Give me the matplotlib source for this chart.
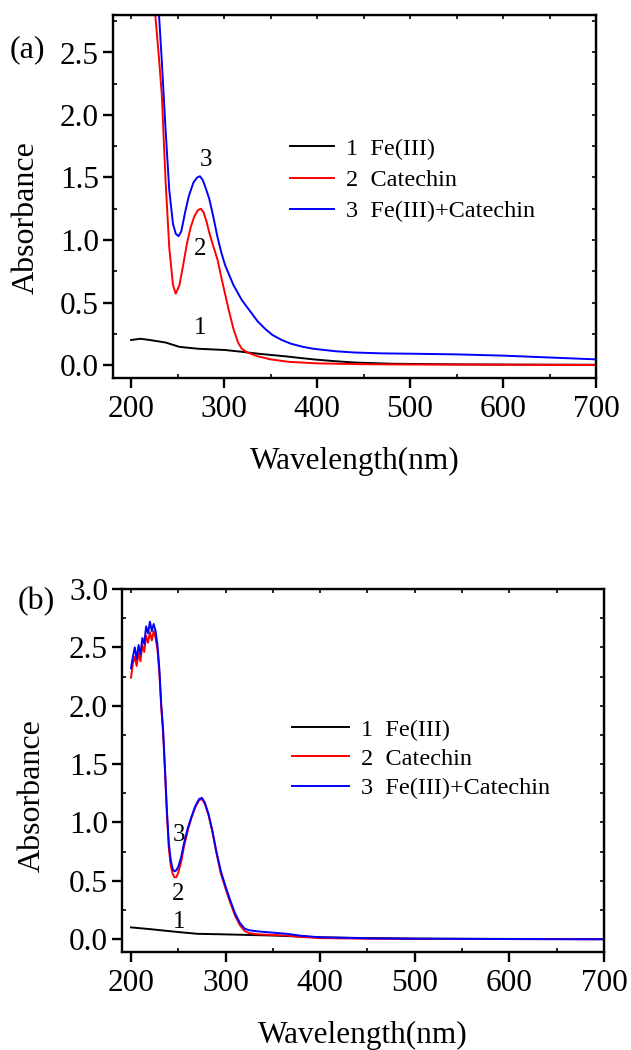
import matplotlib
matplotlib.use('Agg')
import matplotlib.pyplot as plt
from matplotlib.ticker import MultipleLocator, FormatStrFormatter

plt.rcParams['font.family'] = ['Liberation Serif', 'DejaVu Serif']

# ---- panel (a) data ----
wl_fe_a = [200, 210, 220, 237, 252, 272, 301, 320, 337, 365, 396, 420, 440, 480, 550, 620, 700]
abs_fe_a = [0.20, 0.21, 0.20, 0.18, 0.145, 0.13, 0.12, 0.105, 0.09, 0.07, 0.045, 0.03, 0.02, 0.01, 0.005, 0.003, 0.002]

wl_cat_a = [222, 226, 230, 233, 237, 241, 245, 248, 252, 256, 260, 264, 268, 272, 275, 278, 281, 284, 288, 293, 297, 301, 305, 310, 315, 319, 325, 336, 350, 370, 400, 450, 500, 600, 700]
abs_cat_a = [3.5, 2.8, 2.45, 2.16, 1.48, 0.94, 0.64, 0.57, 0.64, 0.80, 0.97, 1.10, 1.19, 1.24, 1.25, 1.22, 1.15, 1.06, 0.96, 0.84, 0.70, 0.57, 0.44, 0.29, 0.18, 0.13, 0.10, 0.07, 0.045, 0.025, 0.013, 0.006, 0.004, 0.002, 0.0]

wl_mix_a = [226, 230, 233, 237, 241, 245, 248, 251, 254, 258, 262, 267, 271, 274, 277, 280, 284, 288, 293, 297, 301, 310, 319, 328, 336, 344, 352, 362, 372, 385, 396, 420, 440, 470, 504, 550, 600, 650, 700]
abs_mix_a = [3.4, 2.8, 2.43, 1.89, 1.40, 1.13, 1.05, 1.03, 1.07, 1.22, 1.35, 1.46, 1.50, 1.51, 1.48, 1.42, 1.33, 1.20, 1.02, 0.90, 0.80, 0.64, 0.52, 0.43, 0.35, 0.29, 0.24, 0.20, 0.17, 0.145, 0.13, 0.11, 0.10, 0.093, 0.09, 0.085, 0.075, 0.06, 0.045]

# ---- panel (b) data ----
wl_fe_b = [200, 220, 250, 270, 300, 350, 400, 450, 500, 600, 700]
abs_fe_b = [0.10, 0.085, 0.06, 0.045, 0.04, 0.03, 0.015, 0.008, 0.004, 0.001, 0.0]

wl_b = [200, 202, 204, 206, 208, 210, 212, 214, 216, 218, 220, 222, 224, 226, 228, 230, 232, 234, 236, 238, 240, 242, 244, 246, 248, 250, 253, 256, 260, 264, 268, 272, 275, 278, 282, 286, 290, 295, 300, 305, 310, 315, 320, 325, 335, 350, 365, 380, 400, 450, 500, 600, 700]
abs_cat_b = [2.24, 2.36, 2.42, 2.34, 2.45, 2.38, 2.52, 2.46, 2.60, 2.54, 2.63, 2.56, 2.64, 2.58, 2.48, 2.28, 1.98, 1.76, 1.42, 1.06, 0.78, 0.63, 0.56, 0.53, 0.53, 0.57, 0.66, 0.79, 0.93, 1.04, 1.13, 1.19, 1.20, 1.16, 1.06, 0.92, 0.75, 0.56, 0.43, 0.31, 0.20, 0.12, 0.07, 0.05, 0.04, 0.035, 0.03, 0.018, 0.008, 0.003, 0.001, 0.0, -0.002]
abs_mix_b = [2.32, 2.42, 2.50, 2.40, 2.52, 2.44, 2.58, 2.53, 2.68, 2.62, 2.72, 2.64, 2.70, 2.64, 2.52, 2.31, 2.01, 1.79, 1.45, 1.10, 0.82, 0.68, 0.60, 0.58, 0.59, 0.62, 0.70, 0.82, 0.95, 1.05, 1.14, 1.20, 1.21, 1.17, 1.07, 0.93, 0.76, 0.58, 0.45, 0.33, 0.22, 0.14, 0.09, 0.075, 0.065, 0.055, 0.045, 0.028, 0.015, 0.006, 0.003, 0.0, -0.002]

labels = ['1  Fe(III)', '2  Catechin', '3  Fe(III)+Catechin']
colors = ['black', 'red', 'blue']


def style_axes(ax, xlim, ylim, yticks):
    ax.set_xlim(*xlim)
    ax.set_ylim(*ylim)
    ax.xaxis.set_major_locator(MultipleLocator(100))
    ax.xaxis.set_minor_locator(MultipleLocator(50))
    ax.set_yticks(yticks)
    ax.yaxis.set_minor_locator(MultipleLocator(0.25))
    ax.yaxis.set_major_formatter(FormatStrFormatter('%.1f'))
    for s in ax.spines.values():
        s.set_linewidth(1.7)
    ax.tick_params(which='major', direction='out', length=7, width=1.7,
                   labelsize=22.5, pad=3)
    ax.tick_params(axis='x', which='major', pad=5)
    ax.tick_params(which='minor', direction='in', length=3, width=1.2)
    # ticks on top / right, pointing in
    top = ax.secondary_xaxis('top')
    top.xaxis.set_major_locator(MultipleLocator(100))
    top.xaxis.set_minor_locator(MultipleLocator(50))
    top.tick_params(which='both', direction='in', length=3, width=1.2, labeltop=False)
    right = ax.secondary_yaxis('right')
    right.yaxis.set_major_locator(MultipleLocator(0.5))
    right.yaxis.set_minor_locator(MultipleLocator(0.25))
    right.tick_params(which='both', direction='in', length=3, width=1.2, labelright=False)
    ax.set_xlabel('Wavelength(nm)', fontsize=22.5)
    ax.set_ylabel('Absorbance', fontsize=23)


fig = plt.figure(figsize=(6.31, 10.5), dpi=100)

# ---- (a) ----
ax1 = fig.add_axes([113 / 631, 1 - 378 / 1050, 483 / 631, 363 / 1050])
for wl, ab, c, lab in zip([wl_fe_a, wl_cat_a, wl_mix_a], [abs_fe_a, abs_cat_a, abs_mix_a], colors, labels):
    ax1.plot(wl, ab, color=c, lw=1.4, label=lab)
style_axes(ax1, (180.5, 700), (-0.104, 2.80), [0, 0.5, 1.0, 1.5, 2.0, 2.5])
ax1.yaxis.set_label_coords(-0.15, 0.443)
ax1.xaxis.set_label_coords(0.5, -0.19)
ax1.legend(loc='center left', bbox_to_anchor=(0.366, 0.545), frameon=False,
           fontsize=17.5, handlelength=1.8, handletextpad=0.5, labelspacing=0.38,
           borderpad=0, borderaxespad=0)
ax1.text(280.5, 1.64, '3', fontsize=18, ha='center', va='center')
ax1.text(274, 0.93, '2', fontsize=18, ha='center', va='center')
ax1.text(274, 0.30, '1', fontsize=18, ha='center', va='center')
fig.text(27 / 631, 1 - 50 / 1050, '(a)', fontsize=23, ha='center', va='center')

# ---- (b) ----
ax2 = fig.add_axes([122 / 631, 1 - 952 / 1050, 482 / 631, 363 / 1050])
for wl, ab, c, lab in zip([wl_fe_b, wl_b, wl_b], [abs_fe_b, abs_cat_b, abs_mix_b], colors, labels):
    ax2.plot(wl, ab, color=c, lw=1.4, label=lab)
style_axes(ax2, (190.5, 700), (-0.111, 3.0), [0, 0.5, 1.0, 1.5, 2.0, 2.5, 3.0])
ax2.yaxis.set_label_coords(-0.157, 0.432)
ax2.xaxis.set_label_coords(0.5, -0.19)
ax2.legend(loc='center left', bbox_to_anchor=(0.353, 0.532), frameon=False,
           fontsize=17.5, handlelength=2.35, handletextpad=0.5, labelspacing=0.30,
           borderpad=0, borderaxespad=0)
ax2.text(251, 0.89, '3', fontsize=18, ha='center', va='center')
ax2.text(249.7, 0.39, '2', fontsize=18, ha='center', va='center')
ax2.text(251, 0.15, '1', fontsize=18, ha='center', va='center')
fig.text(36 / 631, 1 - 602 / 1050, '(b)', fontsize=23, ha='center', va='center')

fig.savefig('out.png', dpi=100)
